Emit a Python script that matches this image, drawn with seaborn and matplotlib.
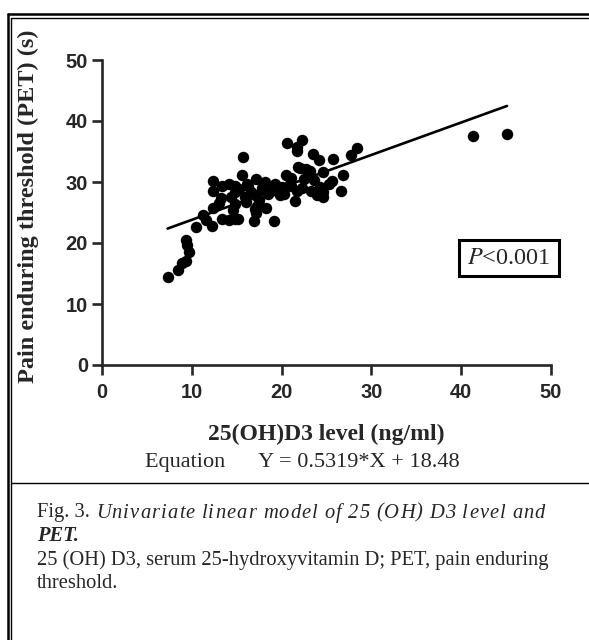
import matplotlib
matplotlib.use("Agg")
import matplotlib.pyplot as plt
import numpy as np
import pandas as pd
import seaborn as sns
from matplotlib.lines import Line2D
from matplotlib.transforms import IdentityTransform

# ---- data ----
vitd = [7.3, 8.5, 8.9, 9.3, 9.3, 9.5, 9.7, 10.5, 11.3, 11.6, 12.2, 12.4, 12.4, 12.4,
        13.4, 13.4, 13.3, 13.0, 14.4, 14.8, 14.6, 14.1, 15.7, 15.6, 14.8, 14.1, 14.8,
        16.1, 16.3, 17.2, 16.9, 17.2, 17.3, 18.3, 19.2, 15.9, 17.0, 18.5, 19.8, 14.8,
        17.0, 15.2, 18.2, 19.3, 20.2, 15.3, 16.6, 17.8, 18.8, 19.5, 16.0, 17.5,
        20.6, 22.3, 21.7, 21.7, 23.5, 24.2, 25.7, 27.7, 28.4, 26.8, 26.6, 21.5, 24.6,
        25.3, 25.6, 22.0, 23.2, 22.7, 24.6, 23.6, 20.5, 21.8, 20.1, 20.9, 21.7, 23.3,
        24.3, 20.3, 23.9, 24.6, 21.1, 22.5, 21.0, 22.3, 41.3, 45.1]
pet = [14.5, 15.6, 16.7, 17.0, 20.5, 19.6, 18.5, 22.7, 24.6, 23.8, 22.8, 25.7, 30.2, 28.6,
       29.3, 23.9, 27.3, 26.5, 27.6, 24.0, 25.4, 23.8, 34.1, 31.1, 29.3, 29.7, 28.4,
       29.7, 29.4, 30.5, 23.6, 25.0, 26.1, 25.7, 23.6, 27.5, 27.8, 28.1, 27.8, 26.4,
       25.6, 24.0, 30.0, 29.7, 28.9, 28.8, 28.4, 29.0, 28.6, 29.2, 26.8, 27.0,
       36.4, 36.9, 35.0, 35.8, 34.6, 33.6, 33.7, 34.4, 35.6, 31.2, 28.6, 26.9, 27.6,
       29.7, 30.2, 32.3, 31.8, 32.1, 31.6, 30.3, 31.1, 32.5, 29.2, 29.7, 28.6, 28.6,
       29.2, 28.1, 27.9, 28.3, 29.4, 30.5, 30.6, 29.0, 37.5, 37.9]
slope = 0.5319
intercept = 18.48
x_ticks = [0, 10, 20, 30, 40, 50]
y_ticks = [0, 10, 20, 30, 40, 50]

df = pd.DataFrame({"x": vitd, "y": pet})
fit_x = np.array([min(vitd), max(vitd)])
fit = pd.DataFrame({"x": fit_x, "y": slope * fit_x + intercept})

sns.set_style("ticks")
plt.rcParams["font.family"] = ["Liberation Serif", "DejaVu Serif"]
plt.rcParams["mathtext.fontset"] = "stix"

W, H = 589, 640
fig = plt.figure(figsize=(W / 100, H / 100), dpi=100)
ax = fig.add_axes([102 / W, 1 - 365 / H, (551 - 102) / W, (365 - 60) / H])

sns.scatterplot(data=df, x="x", y="y", ax=ax, color="black", s=68,
                edgecolor="black", linewidth=0, zorder=3)
sns.lineplot(data=fit, x="x", y="y", ax=ax, color="black", linewidth=1.9, zorder=4)

ax.set_xlim(0, 50)
ax.set_ylim(0, 50)
ax.set_xticks(x_ticks)
ax.set_yticks(y_ticks)
for s in ["top", "right"]:
    ax.spines[s].set_visible(False)
for s in ["left", "bottom"]:
    ax.spines[s].set_linewidth(1.9)
ax.tick_params(axis="both", direction="out", length=7, width=1.9, pad=3)
ax.tick_params(axis="x", pad=6)
for lab in ax.get_xticklabels() + ax.get_yticklabels():
    lab.set_fontfamily("Liberation Sans")
    lab.set_fontweight("bold")
    lab.set_fontsize(14.5)

ax.set_xlabel("25(OH)D3 level (ng/ml)", fontsize=17, fontweight="bold", labelpad=16)
ax.set_ylabel("Pain enduring threshold (PET) (s)", fontsize=17.5, fontweight="bold")
ax.yaxis.set_label_coords(-0.140, 0.52)

pt = ax.text(0, 0, r"$P$<0.001", fontsize=17.5, ha="center", va="center")
pt.set_transform(IdentityTransform())
pt.set_position((509, H - 258))
pt.set_bbox(dict(boxstyle="square,pad=0.32", facecolor="white",
                 edgecolor="black", linewidth=2.2))

fig.text(302 / W, 1 - 463 / H, "Equation      Y = 0.5319*X + 18.48", fontsize=16,
         ha="center", va="center")

# frame lines
def hline(y, x0, x1, lw=1.2):
    fig.add_artist(Line2D([x0 / W, x1 / W], [1 - y / H, 1 - y / H], color="black", lw=lw))
def vline(x, y0, y1, lw=1.2):
    fig.add_artist(Line2D([x / W, x / W], [1 - y0 / H, 1 - y1 / H], color="black", lw=lw))
hline(14, 7.5, W, 1.8)
hline(17.5, 10.5, W, 1.0)
vline(7.5, 14, H, 1.8)
vline(10.5, 17.5, H, 1.0)
hline(483, 10.5, W, 1.0)

# caption
cap_fs = 14.8
t1 = fig.text(37 / W, 1 - 513 / H, "Fig. 3.", fontsize=cap_fs, va="center")
fig.canvas.draw()
r = fig.canvas.get_renderer()
xpos = t1.get_window_extent(r).x1 + 6
italic = "Univariate linear model of 25 (OH) D3 level and"
track = 1.1
for ch in italic:
    if ch == " ":
        xpos += 4.5 + track
        continue
    t = fig.text(xpos / W, 1 - 513 / H, ch, fontsize=cap_fs, style="italic", va="center")
    xpos = t.get_window_extent(r).x1 + track
fig.text(37 / W, 1 - 536 / H, "PET.", fontsize=cap_fs, style="italic", fontweight="bold", va="center")
fig.text(37 / W, 1 - 560 / H, "25 (OH) D3, serum 25-hydroxyvitamin D; PET, pain enduring",
         fontsize=cap_fs, va="center")
fig.text(37 / W, 1 - 583 / H, "threshold.", fontsize=cap_fs, va="center")

fig.savefig("out.png", dpi=100, facecolor="white")
